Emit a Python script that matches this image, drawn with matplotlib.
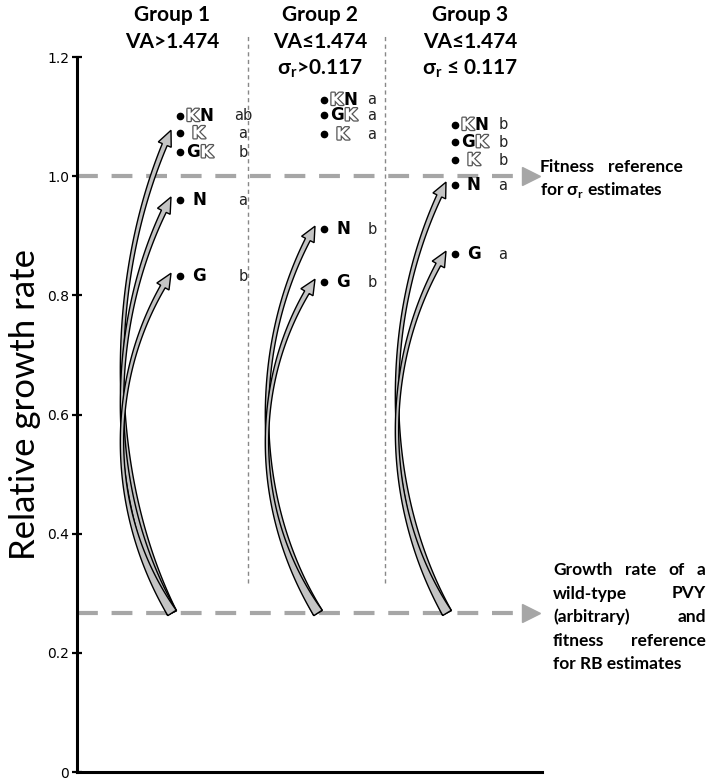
import numpy as np
import matplotlib
matplotlib.use("Agg")
import matplotlib.pyplot as plt
import matplotlib.patheffects as pe
from matplotlib.patches import Polygon

plt.rcParams['font.family'] = ['Lato', 'DejaVu Sans']
plt.rcParams['mathtext.fontset'] = 'custom'
plt.rcParams['mathtext.rm'] = 'Lato:bold'

# ---- data ----
group_titles = ['Group 1', 'Group 2', 'Group 3']
group_conditions = [['VA>1.474'],
                    ['VA≤1.474', r'σ$_\mathrm{r}$>0.117'],
                    ['VA≤1.474', r'σ$_\mathrm{r}$ ≤ 0.117']]

g1_mutants = ['KN', 'K', 'GK', 'N', 'G']
g1_values = [1.101, 1.072, 1.040, 0.960, 0.832]
g1_letters = ['ab', 'a', 'b', 'a', 'b']

g2_mutants = ['KN', 'GK', 'K', 'N', 'G']
g2_values = [1.128, 1.102, 1.070, 0.911, 0.822]
g2_letters = ['a', 'a', 'a', 'b', 'b']

g3_mutants = ['KN', 'GK', 'K', 'N', 'G']
g3_values = [1.086, 1.057, 1.027, 0.985, 0.869]
g3_letters = ['b', 'b', 'b', 'a', 'a']

arrow_targets = [['K', 'N', 'G'], ['N', 'G'], ['N', 'G']]

fitness_ref = 1.0
wild_type_rate = 0.267

yticks = [0, 0.2, 0.4, 0.6, 0.8, 1.0, 1.2]
ytick_labels = ['0', '0.2', '0.4', '0.6', '0.8', '1.0', '1.2']

ref_text_top = ['Fitness reference', r'for σ$_\mathrm{r}$ estimates']
ref_text_bottom = ['Growth rate of a', 'wild-type PVY', '(arbitrary) and',
                   'fitness reference', 'for RB estimates']

# ---- layout (pixel-like x units) ----
W, H = 709, 780
dot_x = [180, 324, 455]
letter_x = [243, 372, 503]
arrow_base_x = [172, 318, 447]
header_x = [172, 320, 470]
sep_x = [248, 385]

fig = plt.figure(figsize=(W / 100, H / 100), dpi=100)
ax = fig.add_axes([77 / W, 8 / H, 465 / W, 715 / H])
ax.set_xlim(77, 542)
ax.set_ylim(0, 1.2)
for s in ['top', 'right']:
    ax.spines[s].set_visible(False)
ax.spines['left'].set_linewidth(2.2)
ax.spines['bottom'].set_linewidth(2.2)
ax.set_xticks([])
ax.set_yticks(yticks)
ax.set_yticklabels(ytick_labels, family='DejaVu Sans', fontsize=10)
ax.tick_params(axis='y', direction='inout', length=7, width=1.6, pad=2)

fig.text(25 / W, 1 - 405 / H, 'Relative growth rate', rotation=90,
         ha='center', va='center', fontsize=25)

renderer = fig.canvas.get_renderer()


def px_width(t):
    return t.get_window_extent(renderer).width


# group headers
for gx, title, conds in zip(header_x, group_titles, group_conditions):
    lines = [title] + conds
    for k, line in enumerate(lines):
        fig.text(gx / W, 1 - (15 + 27 * k) / H, line, ha='center', va='center',
                 fontsize=15, fontweight='bold')

# separators
for sx in sep_x:
    ax.plot([sx, sx], [0.317, 1.237], color='#888888', lw=1, dashes=(3, 2.5),
            clip_on=False)

# reference dashed lines with arrow heads
for yv in [fitness_ref, wild_type_rate]:
    ax.plot([77, 522], [yv, yv], color='#a6a6a6', lw=3, dashes=(5, 3.3),
            solid_capstyle='butt', dash_capstyle='butt', clip_on=False, zorder=2)
    ax.plot([531], [yv], marker='>', ms=13, color='#a6a6a6', clip_on=False, zorder=2)


def justified(lines, x0, x1, y0, dy, size):
    for k, line in enumerate(lines):
        y = 1 - (y0 + dy * k) / H
        words = line.split(' ')
        if k == len(lines) - 1 or len(words) == 1:
            fig.text(x0 / W, y, line, ha='left', va='center', fontsize=size,
                     fontweight='bold')
            continue
        texts = [fig.text(0, y, w_, ha='left', va='center', fontsize=size,
                          fontweight='bold') for w_ in words]
        widths = [px_width(t) for t in texts]
        gap = (x1 - x0 - sum(widths)) / (len(words) - 1)
        x = x0
        for t, w_ in zip(texts, widths):
            t.set_x(x / W)
            x += w_ + gap


justified(ref_text_top, 540, 683, 167, 23, 12.5)
justified(ref_text_bottom, 553, 706, 570, 23.5, 12.5)


def curved_arrow(base, tip):
    B = ax.transData.transform(base)
    T = ax.transData.transform(tip)
    h = T[1] - B[1]
    P0, P1, P2, P3 = B, B + [-66, 0.3 * h], T + [-66, -0.3 * h], T
    t = np.linspace(0, 1, 400)[:, None]
    pts = (1 - t) ** 3 * P0 + 3 * (1 - t) ** 2 * t * P1 + 3 * (1 - t) * t ** 2 * P2 + t ** 3 * P3
    d = np.gradient(pts, axis=0)
    tang = d / np.linalg.norm(d, axis=1)[:, None]
    normal = np.c_[-tang[:, 1], tang[:, 0]]
    s = np.r_[0, np.cumsum(np.linalg.norm(np.diff(pts, axis=0), axis=1))]
    tt = t[:, 0]
    w = 2.0 + 8 * (1 - tt) ** 4 + 3.5 * tt ** 2
    left = pts + normal * w[:, None] / 2
    right = pts - normal * w[:, None] / 2
    i = np.where(s <= s[-1] - 15)[0][-1]
    hb = pts[i]
    hw = 14
    poly = np.vstack([right[:i + 1], hb - normal[i] * hw / 2, T,
                      hb + normal[i] * hw / 2, left[:i + 1][::-1]])
    ax.add_patch(Polygon(ax.transData.inverted().transform(poly), closed=True,
                         fc='#c4c4c4', ec='black', lw=1, clip_on=False, zorder=3))


hollow = dict(color='white', fontweight='bold', family='DejaVu Sans', fontsize=12,
              path_effects=[pe.Stroke(linewidth=1.8, foreground='#555555'), pe.Normal()])
solid = dict(color='black', fontweight='bold', family='DejaVu Sans', fontsize=12)


def mutant_label(x, y, name):
    x = x + (6 if len(name) > 1 else 12)
    for ch in name:
        style = hollow if ch == 'K' else solid
        t = ax.text(x, y, ch, ha='left', va='center', zorder=4, **style)
        x += px_width(t) + 0.5


all_groups = [(g1_mutants, g1_values, g1_letters),
              (g2_mutants, g2_values, g2_letters),
              (g3_mutants, g3_values, g3_letters)]

for gi, (muts, vals, lets) in enumerate(all_groups):
    for tgt in arrow_targets[gi]:
        yv = vals[muts.index(tgt)]
        curved_arrow((arrow_base_x[gi], wild_type_rate), (dot_x[gi] - 9, yv + 0.005))
    ax.plot([dot_x[gi]] * len(vals), vals, 'o', color='black', ms=4.5, zorder=5,
            clip_on=False)
    for m, v, l in zip(muts, vals, lets):
        mutant_label(dot_x[gi], v, m)
        ax.text(letter_x[gi], v, l, ha='center', va='center', fontsize=10.5,
                color='#222222', family='DejaVu Sans')

fig.savefig('out.png', dpi=100)
